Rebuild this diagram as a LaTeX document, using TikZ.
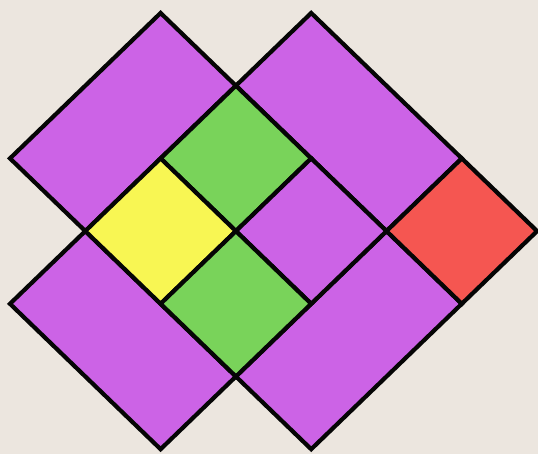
\documentclass[tikz,border=0pt]{standalone}
\definecolor{bgpaper}{HTML}{ECE6DF}
\definecolor{tilepurple}{HTML}{CC63E6}
\definecolor{tilegreen}{HTML}{79D35A}
\definecolor{tileyellow}{HTML}{F8F653}
\definecolor{tilered}{HTML}{F55651}
\definecolor{tileink}{HTML}{050505}

\begin{document}
\begin{tikzpicture}[x=75.3pt, y=-72.7pt,
    tile/.style={draw=tileink, line width=4.2pt, line join=miter},
  ]
  % paper background, also fixes the margins
  \fill[bgpaper] (-0.1328, -0.1788) rectangle (7.012, 6.066);
  \useasboundingbox (-0.1328, -0.1788) rectangle (7.012, 6.066);

  % long purple tiles
  \filldraw[tile, fill=tilepurple] (2,0) -- (3,1) -- (1,3) -- (0,2) -- cycle;
  \filldraw[tile, fill=tilepurple] (4,0) -- (6,2) -- (5,3) -- (3,1) -- cycle;
  \filldraw[tile, fill=tilepurple] (1,3) -- (3,5) -- (2,6) -- (0,4) -- cycle;
  \filldraw[tile, fill=tilepurple] (5,3) -- (6,4) -- (4,6) -- (3,5) -- cycle;

  % small square tiles, given by their centres
  \foreach \cx/\cy/\col in {3/2/tilegreen, 2/3/tileyellow, 4/3/tilepurple,
                            6/3/tilered, 3/4/tilegreen} {
    \filldraw[tile, fill=\col] (\cx, \cy-1) -- (\cx+1, \cy) -- (\cx, \cy+1)
      -- (\cx-1, \cy) -- cycle;
  }
\end{tikzpicture}
\end{document}
